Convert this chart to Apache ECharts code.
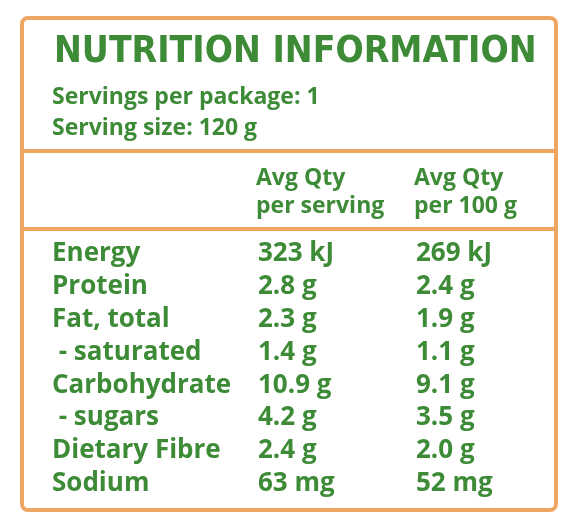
<!DOCTYPE html>
<html><head><meta charset="utf-8">
<script src="https://cdn.jsdelivr.net/npm/echarts@6/dist/echarts.min.js"></script>
<style>html,body{margin:0;padding:0;background:#fff}#c{width:576px;height:522px}</style>
</head><body><div id="c"></div>
<script>
const title = "NUTRITION INFORMATION";
const servingInfo = ["Servings per package: 1", "Serving size: 120 g"];
const headers = [["Avg Qty", "per serving"], ["Avg Qty", "per 100 g"]];
const nutrients = ["Energy", "Protein", "Fat, total", " - saturated", "Carbohydrate", " - sugars", "Dietary Fibre", "Sodium"];
const perServing = ["323 kJ", "2.8 g", "2.3 g", "1.4 g", "10.9 g", "4.2 g", "2.4 g", "63 mg"];
const per100g = ["269 kJ", "2.4 g", "1.9 g", "1.1 g", "9.1 g", "3.5 g", "2.0 g", "52 mg"];

const green = "#3d8b37", orange = "#eea562";
const font = "'Open Sans', Lato, sans-serif";
const els = [];
els.push({type:'rect', shape:{x:22,y:18,width:534,height:492,r:6}, style:{fill:'none',stroke:orange,lineWidth:4}});
els.push({type:'line', shape:{x1:22,y1:151,x2:556,y2:151}, style:{stroke:orange,lineWidth:4}});
els.push({type:'line', shape:{x1:22,y1:229,x2:556,y2:229}, style:{stroke:orange,lineWidth:4}});
function txt(s,x,y,size){els.push({type:'text',x:x,y:y,style:{text:s,fill:green,font:`bold ${size}px ${font}`,textVerticalAlign:'middle'}});}
els.push({type:'text',x:54,y:52,style:{text:title,fill:green,font:`bold 37px 'DejaVu Sans Condensed', ${font}`,textVerticalAlign:'middle'}});
servingInfo.forEach((s,i)=>txt(s,52,97+i*31,23));
headers.forEach((h,j)=>h.forEach((s,i)=>txt(s,[256,414][j],178+i*28,23)));
nutrients.forEach((n,i)=>{
  const y=254+i*32.8;
  txt(n,52,y,26); txt(perServing[i],258,y,26); txt(per100g[i],416,y,26);
});
echarts.init(document.getElementById('c')).setOption({animation:false,graphic:{elements:els}});
</script></body></html>
